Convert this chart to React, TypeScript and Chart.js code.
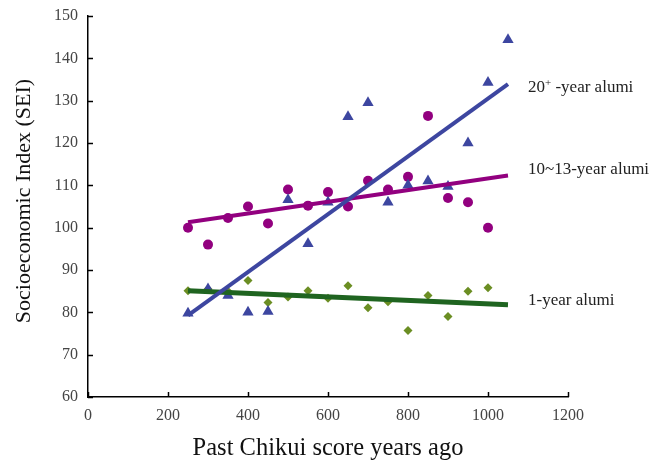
import React, { useEffect, useRef } from "react";
import { Chart, registerables } from "chart.js";

Chart.register(...registerables);

const xTickLabels = ["0", "200", "400", "600", "800", "1000", "1200"];
const yTickLabels = ["60", "70", "80", "90", "100", "110", "120", "130", "140", "150"];

const xTri = [250, 300, 350, 400, 450, 500, 550, 600, 650, 700, 750, 800, 850, 900, 950, 1000, 1050];
const yTri = [79.8, 85.5, 84.0, 80.0, 80.2, 106.6, 96.2, 106.0, 126.2, 129.5, 106.0, 110.0, 111.0, 109.7, 120.0, 134.3, 144.4];

const xCirc = [250, 300, 350, 400, 450, 500, 550, 600, 650, 700, 750, 800, 850, 900, 950, 1000];
const yCirc = [100.0, 96.0, 102.3, 105.0, 101.0, 109.0, 105.2, 108.4, 105.0, 111.1, 109.0, 112.0, 126.4, 107.0, 106.0, 100.0];

const xDiam = [250, 300, 350, 400, 450, 500, 550, 600, 650, 700, 750, 800, 850, 900, 950, 1000];
const yDiam = [85.1, 85.5, 85.0, 87.5, 82.3, 83.6, 85.1, 83.3, 86.3, 81.1, 82.5, 75.7, 84.0, 79.0, 85.0, 85.8];

const trendX = [250, 1050];
const trend20 = [79.3, 133.9];
const trend10 = [101.3, 112.3];
const trend1 = [85.1, 81.8];

const labelX = 1100;
const labels = [
  { main: "20", sup: "+", rest: " -year alumi", y: 133 },
  { main: "10~13-year alumi", sup: "", rest: "", y: 113.8 },
  { main: "1-year alumi", sup: "", rest: "", y: 82.9 },
];

const xTitle = "Past Chikui score years ago";
const yTitle = "Socioeconomic Index (SEI)";

const FONT = "'Liberation Serif', 'Times New Roman', serif";

const pts = (xs: number[], ys: number[]) => xs.map((x, i) => ({ x, y: ys[i] }));

export default function App() {
  const ref = useRef<HTMLCanvasElement | null>(null);
  useEffect(() => {
    if (!ref.current) return;
    const overlay = {
      id: "overlay",
      afterDraw(chart: any) {
        const ctx = chart.ctx;
        const xs = chart.scales.x;
        const ys = chart.scales.y;
        const area = chart.chartArea;
        ctx.save();
        ctx.strokeStyle = "#000";
        ctx.lineWidth = 1.5;
        // inward tick marks
        xs.ticks.forEach((t: any) => {
          const px = Math.round(xs.getPixelForValue(t.value)) + 0.5;
          ctx.beginPath();
          ctx.moveTo(px, area.bottom);
          ctx.lineTo(px, area.bottom - 5);
          ctx.stroke();
        });
        ys.ticks.forEach((t: any) => {
          const py = Math.round(ys.getPixelForValue(t.value)) + 0.5;
          ctx.beginPath();
          ctx.moveTo(area.left, py);
          ctx.lineTo(area.left + 5, py);
          ctx.stroke();
        });
        // series labels
        ctx.fillStyle = "#222";
        ctx.textBaseline = "middle";
        ctx.textAlign = "left";
        labels.forEach((l) => {
          let px = xs.getPixelForValue(labelX);
          const py = ys.getPixelForValue(l.y);
          ctx.font = `17px ${FONT}`;
          ctx.fillText(l.main, px, py);
          px += ctx.measureText(l.main).width;
          if (l.sup) {
            ctx.font = `11px ${FONT}`;
            ctx.fillText(l.sup, px, py - 5);
            px += ctx.measureText(l.sup).width;
          }
          if (l.rest) {
            ctx.font = `17px ${FONT}`;
            ctx.fillText(l.rest, px, py);
          }
        });
        // axis titles
        ctx.fillStyle = "#111";
        ctx.textAlign = "center";
        ctx.textBaseline = "alphabetic";
        ctx.font = `24.5px ${FONT}`;
        ctx.fillText(xTitle, (area.left + area.right) / 2, 455);
        ctx.textBaseline = "middle";
        ctx.font = `22px ${FONT}`;
        ctx.translate(24, 201);
        ctx.rotate(-Math.PI / 2);
        ctx.fillText(yTitle, 0, 0);
        ctx.restore();
      },
    };
    const chart = new Chart(ref.current, {
      type: "scatter",
      data: {
        datasets: [
          {
            type: "line",
            data: pts(trendX, trend20),
            borderColor: "#3d46a0",
            borderWidth: 4,
            pointRadius: 0,
          } as any,
          {
            type: "line",
            data: pts(trendX, trend10),
            borderColor: "#92007f",
            borderWidth: 4,
            pointRadius: 0,
          } as any,
          {
            type: "line",
            data: pts(trendX, trend1),
            borderColor: "#1f6420",
            borderWidth: 5,
            pointRadius: 0,
          } as any,
          {
            data: pts(xTri, yTri),
            pointStyle: "triangle",
            pointRadius: 6.5,
            backgroundColor: "#3d46a0",
            borderColor: "#3d46a0",
            borderWidth: 0,
          },
          {
            data: pts(xCirc, yCirc),
            pointStyle: "circle",
            pointRadius: 5,
            backgroundColor: "#92007f",
            borderColor: "#92007f",
            borderWidth: 0,
          },
          {
            data: pts(xDiam, yDiam),
            pointStyle: "rectRot",
            pointRadius: 4.5,
            backgroundColor: "#6b8e23",
            borderColor: "#6b8e23",
            borderWidth: 0,
          },
        ],
      },
      options: {
        responsive: false,
        animation: false,
        layout: { padding: { left: 0, right: 98, top: 16, bottom: 0 } },
        plugins: { legend: { display: false }, tooltip: { enabled: false } },
        scales: {
          x: {
            type: "linear",
            min: 0,
            max: 1200,
            afterFit: (s: any) => {
              s.height = 64;
              s.paddingLeft = 0;
              s.paddingRight = 0;
            },
            afterBuildTicks: (s: any) => {
              s.ticks = xTickLabels.map((v) => ({ value: Number(v) }));
            },
            grid: { display: false, drawTicks: false },
            border: { display: true, color: "#000", width: 1.5 },
            ticks: {
              padding: 9,
              color: "#444",
              font: { family: FONT, size: 16 },
              maxRotation: 0,
              autoSkip: false,
              callback: (v: any) => String(v),
            },
          },
          y: {
            type: "linear",
            min: 60,
            max: 150,
            afterFit: (s: any) => {
              s.width = 88;
              s.paddingTop = 0;
              s.paddingBottom = 0;
            },
            afterBuildTicks: (s: any) => {
              s.ticks = yTickLabels.map((v) => ({ value: Number(v) }));
            },
            grid: { display: false, drawTicks: false },
            border: { display: true, color: "#000", width: 1.5 },
            ticks: {
              padding: 10,
              color: "#444",
              font: { family: FONT, size: 16 },
              autoSkip: false,
              callback: (v: any) => String(v),
            },
          },
        },
      },
      plugins: [overlay],
    } as any);
    return () => chart.destroy();
  }, []);
  return (
    <div style={{ position: "absolute", left: 0, top: 0, width: 666, height: 461, background: "#fff" }}>
      <canvas ref={ref} width={666} height={461} />
    </div>
  );
}
